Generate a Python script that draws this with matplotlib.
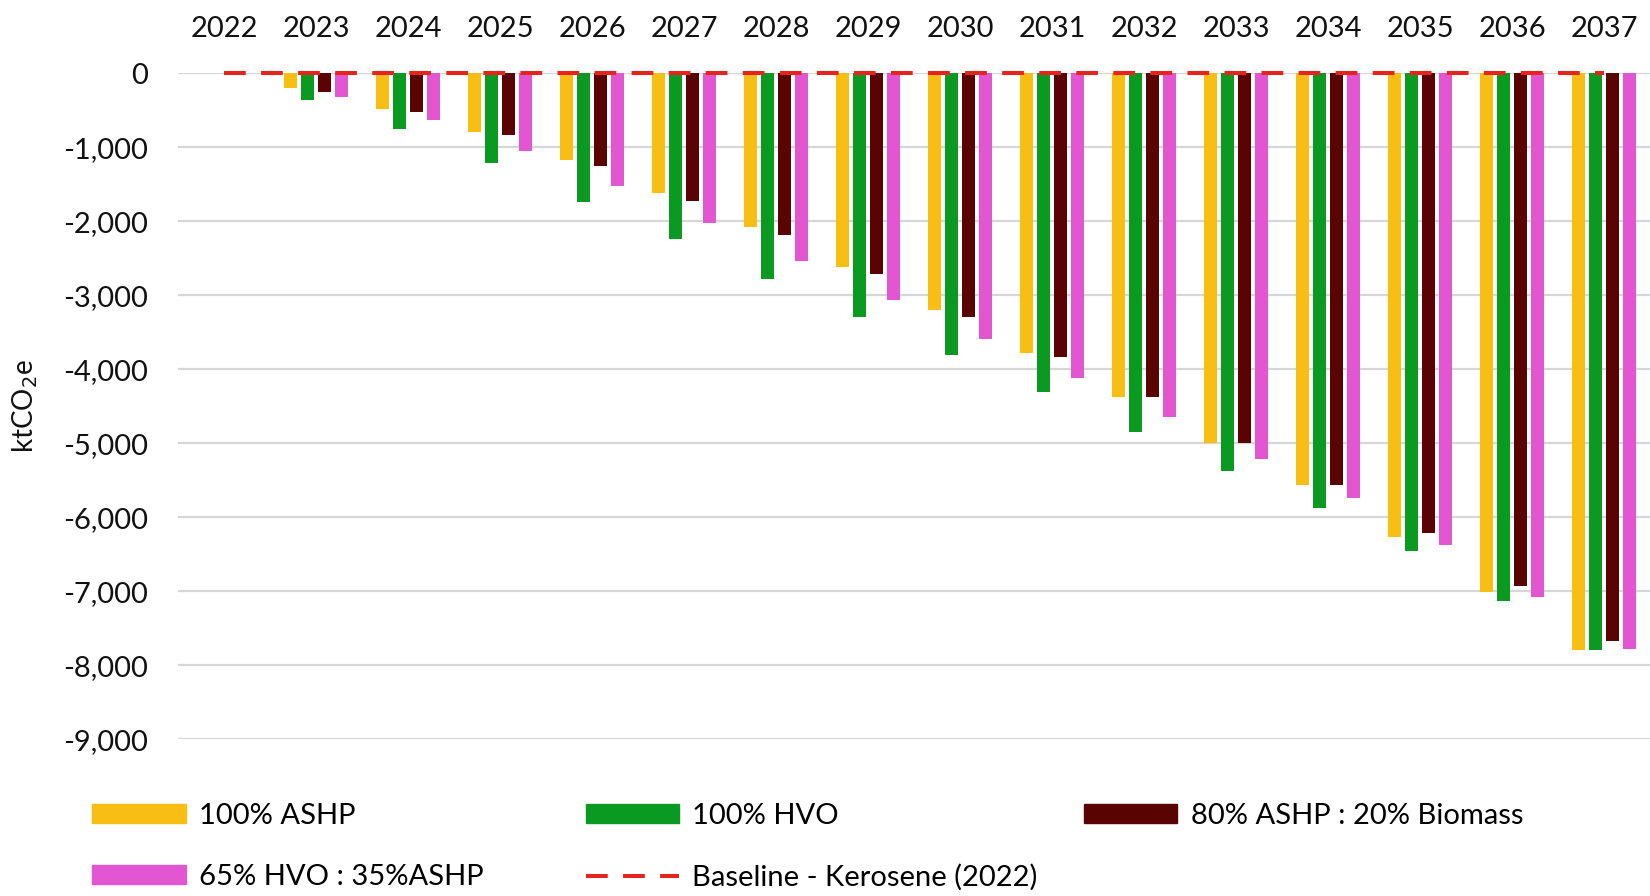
import numpy as np
import matplotlib
matplotlib.use("Agg")
import matplotlib.pyplot as plt
from matplotlib.ticker import FuncFormatter
from matplotlib.patches import Patch
from matplotlib.lines import Line2D

plt.rcParams['font.family'] = ['Lato', 'DejaVu Sans']

years = ['2022', '2023', '2024', '2025', '2026', '2027', '2028', '2029',
         '2030', '2031', '2032', '2033', '2034', '2035', '2036', '2037']

# ktCO2e relative to the 2022 kerosene baseline
ashp_100 = [0, -200, -480, -785, -1170, -1610, -2080, -2620,
            -3200, -3780, -4380, -5000, -5560, -6260, -7010, -7800]
hvo_100 = [0, -360, -750, -1210, -1740, -2240, -2780, -3290,
           -3800, -4300, -4850, -5370, -5870, -6450, -7130, -7790]
ashp80_bio20 = [0, -250, -516, -830, -1250, -1720, -2190, -2710,
                -3290, -3830, -4370, -4990, -5560, -6210, -6930, -7670]
hvo65_ashp35 = [0, -314, -628, -1054, -1520, -2020, -2540, -3060,
                -3590, -4120, -4640, -5210, -5740, -6370, -7080, -7780]
baseline = [0] * len(years)

series = [ashp_100, hvo_100, ashp80_bio20, hvo65_ashp35]
labels = ['100% ASHP', '100% HVO', '80% ASHP : 20% Biomass', '65% HVO : 35%ASHP']
colors = ['#F9BE14', '#0A9A22', '#5A0303', '#E356D2']

fig = plt.figure(figsize=(16.5, 8.96), dpi=100)
ax = fig.add_axes([0.108, 0.175, 0.892, 0.743])

x = np.arange(len(years))
step = 0.185
width = 0.14
for k, (vals, col) in enumerate(zip(series, colors)):
    ax.bar(x + (k - 1.5) * step, vals, width=width, color=col, zorder=3)

ax.plot(x, baseline, color='#E8221C', lw=2.9, dashes=(5.4, 3.8),
        zorder=4, clip_on=False)

ax.set_xlim(-0.5, len(years) - 0.5)
ax.set_ylim(-9000, 0)
ax.set_yticks(np.arange(-9000, 1, 1000))
ax.yaxis.set_major_formatter(FuncFormatter(lambda v, p: f"{int(v):,}"))
ax.grid(axis='y', color='#D6D6D6', lw=1.6, zorder=0)
ax.set_axisbelow(True)

ax.xaxis.tick_top()
ax.set_xticks(x)
ax.set_xticklabels(years)
ax.tick_params(axis='x', length=0, pad=23, labelsize=21, colors='#111111')
ax.tick_params(axis='y', length=0, pad=22, labelsize=21, colors='#111111')
for s in ax.spines.values():
    s.set_visible(False)

ax.set_ylabel('ktCO$_2$e', fontsize=20, color='#111111')
ax.yaxis.set_label_coords(-0.094, 0.5)

handles = [Patch(color=c) for c in colors]
base_handle = Line2D([], [], color='#E8221C', lw=2.9, dashes=(5.4, 3.8))

cols = [
    ([handles[0], handles[3]], [labels[0], labels[3]], 0.056),
    ([handles[1], base_handle], [labels[1], 'Baseline - Kerosene (2022)'], 0.355),
    ([handles[2]], [labels[2]], 0.657),
]
for hs, ls, xpos in cols:
    fig.legend(hs, ls, loc='upper left', bbox_to_anchor=(xpos, 0.104),
               frameon=False, fontsize=21, handlelength=3.2, handleheight=0.62,
               handletextpad=0.45, labelspacing=1.2, borderpad=0,
               borderaxespad=0)

fig.savefig('out.png', dpi=100)
